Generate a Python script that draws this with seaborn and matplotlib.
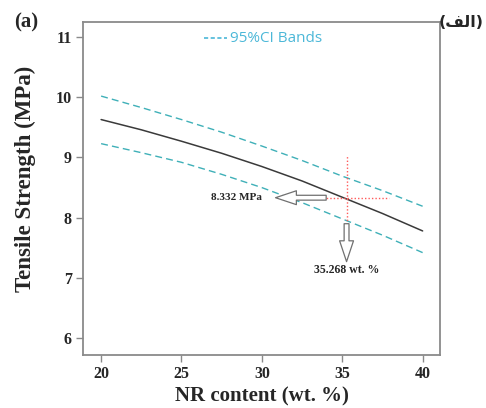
import numpy as np
import pandas as pd
import matplotlib
matplotlib.use("Agg")
import matplotlib.pyplot as plt
import seaborn as sns

# values
nr_content = [20, 22.5, 25, 27.5, 30, 32.5, 35, 37.5, 40]
fit_strength = [9.63, 9.46, 9.27, 9.07, 8.85, 8.61, 8.34, 8.07, 7.78]
ci_upper = [10.02, 9.83, 9.63, 9.42, 9.19, 8.95, 8.69, 8.45, 8.19]
ci_lower = [9.23, 9.08, 8.92, 8.72, 8.50, 8.25, 7.98, 7.71, 7.42]

opt_x = 35.268
opt_y = 8.332
x_ticks = [20, 25, 30, 35, 40]
y_ticks = [6, 7, 8, 9, 10, 11]

df = pd.DataFrame({"x": nr_content, "fit": fit_strength,
                   "upper": ci_upper, "lower": ci_lower})

sns.set_style("white")
plt.rcParams["font.family"] = ["Liberation Serif", "DejaVu Serif"]

fig = plt.figure(figsize=(4.86, 4.08), dpi=100)
ax = fig.add_axes([0.171, 0.130, 0.735, 0.816])

band_col = "#3fb0b8"
sns.lineplot(data=df, x="x", y="fit", ax=ax, color="#3a3a3a", lw=1.1)
sns.lineplot(data=df, x="x", y="upper", ax=ax, color=band_col, lw=1.0,
             linestyle=(0, (5, 3)))
sns.lineplot(data=df, x="x", y="lower", ax=ax, color=band_col, lw=1.0,
             linestyle=(0, (5, 3)))

# optimum crosshair
red = "#ff5a5a"
ax.plot([opt_x, opt_x], [7.9, 9.02], color=red, lw=1.0, ls=(0, (1, 1.5)))
ax.plot([32.5, 37.9], [opt_y, opt_y], color=red, lw=1.0, ls=(0, (1, 1.5)))

arrow_kw = dict(arrowstyle="simple,head_width=1.0,head_length=1.5,tail_width=0.35",
                fc="white", ec="#707070", lw=0.9, shrinkA=0, shrinkB=0)
ax.annotate("", xy=(30.85, opt_y), xytext=(34.0, opt_y), arrowprops=arrow_kw)
ax.annotate("", xy=(opt_x, 7.27), xytext=(opt_x, 7.9), arrowprops=arrow_kw)

ax.text(30.0, opt_y, "8.332 MPa", ha="right", va="center",
        fontsize=8, fontweight="bold")
ax.text(opt_x, 7.13, "35.268 wt. %", ha="center", va="center",
        fontsize=8.5, fontweight="bold")

# legend for the CI bands
ax.plot([26.4, 27.85], [10.98, 10.98], color="#4cb8d8", lw=1.2, ls=(0, (2.5, 1.5)))
ax.text(28.0, 10.98, "95%CI Bands", color="#4cb8d8", fontsize=11,
        va="center", ha="left", family=["Open Sans", "DejaVu Sans"])

ax.set_xlim(18.88, 41.1)
ax.set_ylim(5.72, 11.25)
ax.set_xticks(x_ticks)
ax.set_yticks(y_ticks)
ax.set_xlabel("NR content (wt. %)", fontsize=15, fontweight="bold")
ax.set_ylabel("Tensile Strength (MPa)", fontsize=16.5, fontweight="bold")
ax.xaxis.set_label_coords(0.5, -0.095)
ax.yaxis.set_label_coords(-0.131, 0.528)

for s in ax.spines.values():
    s.set_color("#8a8a8a")
    s.set_linewidth(1.3)
ax.tick_params(axis="both", which="major", direction="out", length=5, width=1.0,
               color="#8a8a8a", labelsize=11.5, pad=3, left=True, bottom=True)
for lab in ax.get_xticklabels() + ax.get_yticklabels():
    lab.set_fontweight("bold")

fig.text(0.03, 0.945, "(a)", fontsize=15, fontweight="bold", ha="left", va="center")
# Arabic "(الف)" written in visual order with presentation forms
fig.text(0.995, 0.945, "(\uFED2\uFEDF\uFE8D)", fontsize=11.5, fontweight="bold",
         ha="right", va="center", family=["DejaVu Sans"])

fig.savefig("out.png", dpi=100)
